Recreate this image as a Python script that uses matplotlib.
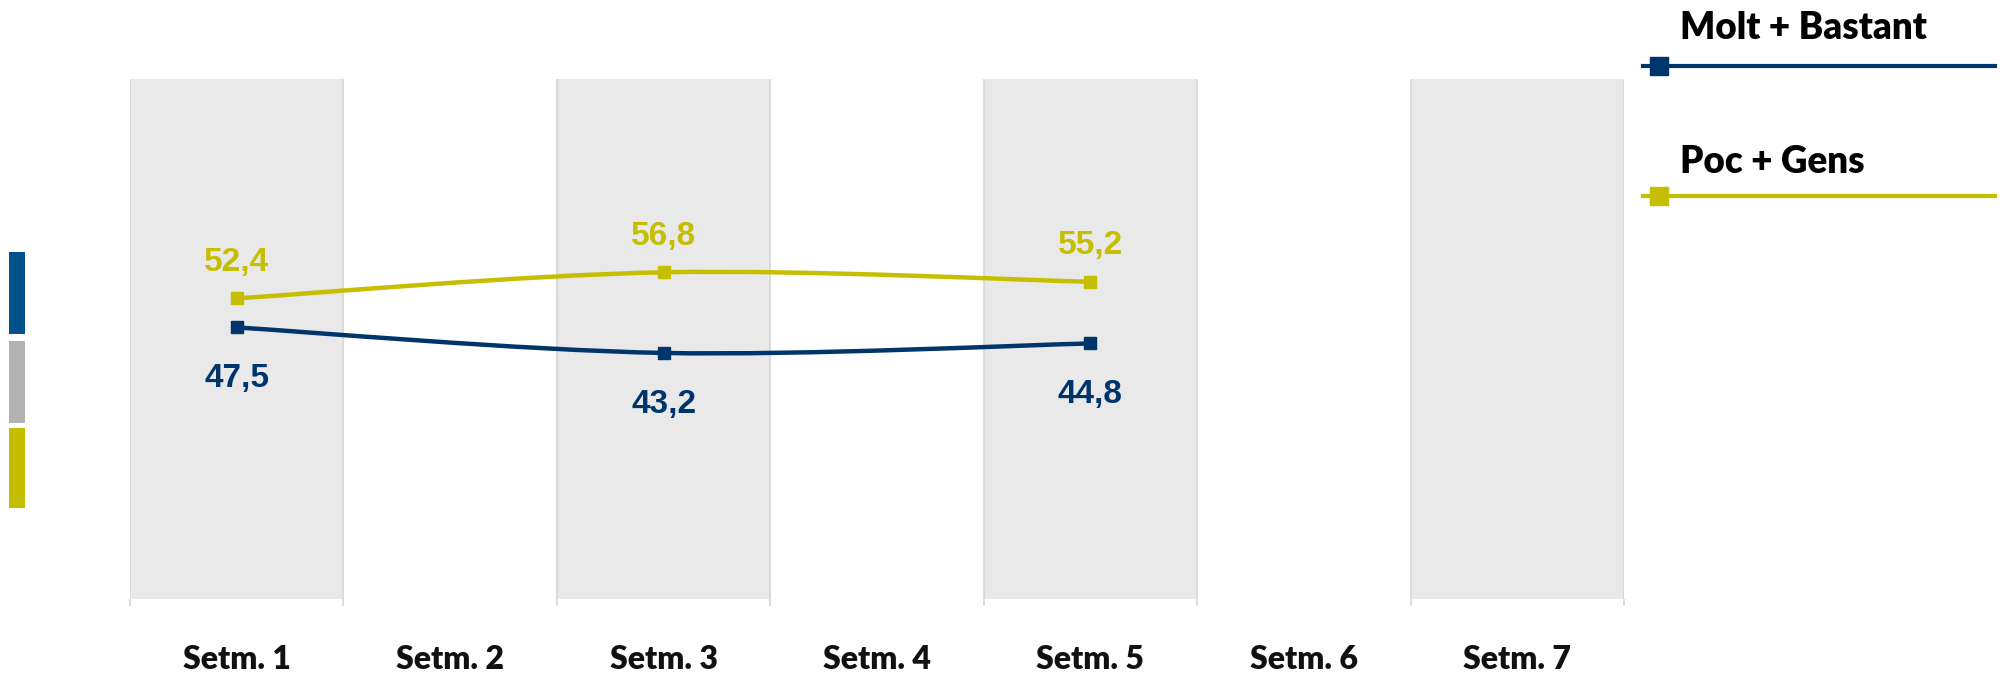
import matplotlib
matplotlib.use("Agg")
import matplotlib.pyplot as plt
from matplotlib.path import Path
from matplotlib.patches import PathPatch, Rectangle
from matplotlib.lines import Line2D

# ---------------- data ----------------
categories = ["Setm. 1", "Setm. 2", "Setm. 3", "Setm. 4", "Setm. 5", "Setm. 6", "Setm. 7"]
series_names = ["Molt + Bastant", "Poc + Gens"]
week_idx = [0, 2, 4]                 # weeks that have values (Setm. 1, 3, 5)
molt_bastant = [47.5, 43.2, 44.8]
poc_gens = [52.4, 56.8, 55.2]
value_labels_mb = ["47,5", "43,2", "44,8"]
value_labels_pg = ["52,4", "56,8", "55,2"]

# ---------------- style ----------------
C_BLUE = "#00356b"
C_YEL = "#c6be00"
C_BAND = "#e9e9e9"
C_GRID = "#d9d9d9"

W, H = 2008, 673
fig = plt.figure(figsize=(W / 100, H / 100), dpi=100)
ax = fig.add_axes([130 / W, 1 - 599 / H, (1624 - 130) / W, (599 - 79) / H])

n = len(categories)
ax.set_xlim(-0.5, n - 0.5)
ax.set_ylim(1.7, 89.4)

# alternating bands
for i in range(0, n, 2):
    ax.axvspan(i - 0.5, i + 0.5, color=C_BAND, lw=0, zorder=0)

# boundaries as minor ticks + grid
ax.set_xticks([i - 0.5 for i in range(n + 1)], minor=True)
ax.set_xticks(range(n))
ax.set_xticklabels(categories, fontfamily="Lato", fontweight="heavy", fontsize=23, color="#111111")
ax.tick_params(axis="x", which="major", length=0, pad=33)
ax.tick_params(axis="x", which="minor", length=5, width=1.3, color=C_GRID)
ax.grid(True, which="minor", axis="x", color=C_GRID, lw=1.3, zorder=0.5)
ax.set_yticks([])
for s in ax.spines.values():
    s.set_visible(False)


def smooth_path(xs, ys):
    pts = list(zip(xs, ys))
    verts = [pts[0]]
    codes = [Path.MOVETO]
    m = len(pts)
    for i in range(m - 1):
        p0 = pts[i - 1] if i > 0 else pts[i]
        p1 = pts[i]
        p2 = pts[i + 1]
        p3 = pts[i + 2] if i + 2 < m else pts[i + 1]
        c1 = (p1[0] + (p2[0] - p0[0]) / 6, p1[1] + (p2[1] - p0[1]) / 6)
        c2 = (p2[0] - (p3[0] - p1[0]) / 6, p2[1] - (p3[1] - p1[1]) / 6)
        verts += [c1, c2, p2]
        codes += [Path.CURVE4] * 3
    return Path(verts, codes)


for vals, col, labs, above in [(poc_gens, C_YEL, value_labels_pg, True),
                               (molt_bastant, C_BLUE, value_labels_mb, False)]:
    ax.add_patch(PathPatch(smooth_path(week_idx, vals), fill=False, ec=col, lw=3.2,
                           capstyle="round", joinstyle="round", zorder=3))
    ax.plot(week_idx, vals, ls="none", marker="s", ms=8.5, color=col, zorder=4)
    for x, v, t in zip(week_idx, vals, labs):
        off = 20 if above else -43
        ax.annotate(t, (x, v), xytext=(0, off), textcoords="offset points",
                    ha="center", va="baseline", fontsize=24, fontweight="bold",
                    fontfamily="Liberation Sans", color=col, zorder=5)

# ---------------- legend (manual) ----------------
leg_y_text = [39, 173]     # baselines in px from top
leg_y_line = [66, 196]
for name, col, yt, yl in zip(series_names, [C_BLUE, C_YEL], leg_y_text, leg_y_line):
    fig.text(1680 / W, 1 - yt / H, name, fontfamily="Lato", fontweight="heavy",
             fontsize=26.5, color="#000000", ha="left", va="baseline")
    fig.add_artist(Line2D([1643 / W, 1995 / W], [1 - yl / H, 1 - yl / H],
                          transform=fig.transFigure, color=col, lw=3.0))
    fig.add_artist(Line2D([1659 / W], [1 - yl / H], transform=fig.transFigure,
                          marker="s", ms=13, color=col, ls="none"))

# ---------------- left colour stripes ----------------
stripes = [(252, 334, "#00508c"), (341, 423, "#b2b2b2"), (428, 508, "#c5bd00")]
for y0, y1, c in stripes:
    fig.add_artist(Rectangle((9 / W, 1 - y1 / H), 16 / W, (y1 - y0) / H,
                             transform=fig.transFigure, color=c, lw=0))

fig.savefig("out.png", dpi=100)
